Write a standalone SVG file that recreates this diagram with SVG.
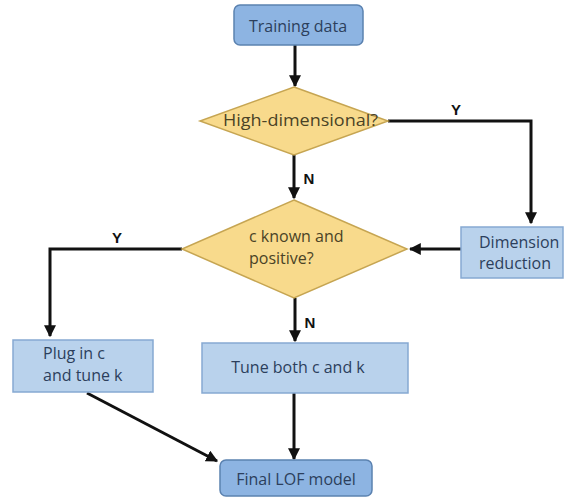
<svg xmlns="http://www.w3.org/2000/svg" width="565" height="498" viewBox="0 0 565 498">
<style>
.dark{fill:#8db4e2;stroke:#5b82b0;stroke-width:1.5}
.light{fill:#b9d2ec;stroke:#86a9d2;stroke-width:1.5}
.dia{fill:#f8da8c;stroke:#c6a552;stroke-width:1.5}
text{font-family:"Open Sans","DejaVu Sans",sans-serif;font-size:16px;fill:#2c3f5c}
.dt{fill:#4a4326}
.lbl{font-family:"Liberation Sans",Arial,sans-serif;font-weight:bold;font-size:15px;fill:#111}
.c{stroke:#111;stroke-width:3;fill:none;marker-end:url(#ah)}
</style>
<defs>
<marker id="ah" viewBox="0 0 10 10" refX="9" refY="5" markerWidth="4" markerHeight="4" orient="auto" markerUnits="strokeWidth">
<path d="M0,0 L10,5 L0,10 z" fill="#111"/>
</marker>
</defs>
<rect width="565" height="498" fill="#fff"/>
<g id="connectors">
<path class="c" d="M295,45 V86"/>
<path class="c" d="M388,121 H531 V223"/>
<path class="c" d="M294,155 V198"/>
<path class="c" d="M461,249 H410"/>
<path class="c" d="M182,249 H50 V336"/>
<path class="c" d="M295,298 V341"/>
<path class="c" d="M294,393 V459"/>
<path class="c" d="M87,393 L217,461"/>
<text class="lbl" x="456" y="115" text-anchor="middle">Y</text>
<text class="lbl" x="309" y="184" text-anchor="middle">N</text>
<text class="lbl" x="117" y="243" text-anchor="middle">Y</text>
<text class="lbl" x="310" y="328" text-anchor="middle">N</text>
</g>
<g id="training">
<rect class="dark" x="234" y="5" width="129" height="40" rx="6"/>
<text x="298" y="32" text-anchor="middle">Training data</text>
</g>
<g id="highdim">
<polygon class="dia" points="294,87 388,121 294,155 200,121"/>
<text class="dt" x="223" y="126" textLength="155" lengthAdjust="spacingAndGlyphs">High-dimensional?</text>
</g>
<g id="dimred">
<rect class="light" x="461" y="227" width="102" height="51"/>
<text x="479" y="248">Dimension</text>
<text x="479" y="269">reduction</text>
</g>
<g id="cknown">
<polygon class="dia" points="294,200 407,249 294,298 182,249"/>
<text class="dt" x="249" y="242">c known and</text>
<text class="dt" x="249" y="264">positive?</text>
</g>
<g id="plug">
<rect class="light" x="13" y="340" width="140" height="52"/>
<text x="43" y="359">Plug in c</text>
<text x="43" y="381">and tune k</text>
</g>
<g id="tune">
<rect class="light" x="202" y="343" width="206" height="50"/>
<text x="298" y="373" text-anchor="middle">Tune both c and k</text>
</g>
<g id="final">
<rect class="dark" x="220" y="460" width="152" height="36" rx="6"/>
<text x="296" y="485" text-anchor="middle">Final LOF model</text>
</g>
</svg>
